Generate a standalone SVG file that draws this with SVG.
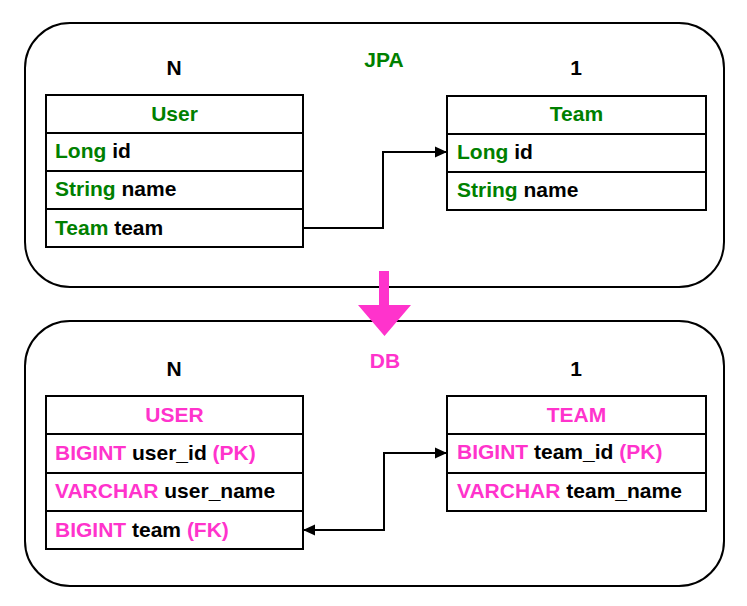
<svg xmlns="http://www.w3.org/2000/svg" width="747" height="606" viewBox="0 0 747 606">
<style>
text{font-family:"Liberation Sans",Arial,sans-serif;font-weight:bold;font-size:21px;fill:#000}
.g{fill:#008000}
.p{fill:#FF33CC}
.c{text-anchor:middle}
.box{fill:#fff;stroke:#000;stroke-width:2}
.cell{fill:#fff;stroke:#000;stroke-width:2}
.conn{fill:none;stroke:#000;stroke-width:2}
</style>
<defs>
<marker id="ah" markerWidth="12" markerHeight="12" refX="11" refY="6" orient="auto-start-reverse" markerUnits="userSpaceOnUse">
<path d="M0,0.5 L12,6 L0,11.5 Z" fill="#000"/>
</marker>
</defs>
<rect width="747" height="606" fill="#fff"/>
<g id="jpa-container">
<rect class="box" x="25" y="23" width="699" height="264" rx="45" ry="45"/>
<text class="g c" x="384" y="67">JPA</text>
<text class="c" x="174" y="75">N</text>
<text class="c" x="576" y="75">1</text>
</g>
<g id="db-container">
<rect class="box" x="25" y="321" width="699" height="265" rx="45" ry="45"/>
<text class="p c" x="385" y="368">DB</text>
<text class="c" x="174" y="376">N</text>
<text class="c" x="576" y="376">1</text>
</g>
<g id="jpa-user">
<rect class="cell" x="46" y="95" width="257" height="38"/>
<rect class="cell" x="46" y="133" width="257" height="38"/>
<rect class="cell" x="46" y="171" width="257" height="38"/>
<rect class="cell" x="46" y="209" width="257" height="38"/>
<text class="g c" x="174.5" y="121">User</text>
<text x="55" y="158"><tspan class="g">Long</tspan> id</text>
<text x="55" y="196"><tspan class="g">String</tspan> name</text>
<text x="55" y="235"><tspan class="g">Team</tspan> team</text>
</g>
<g id="jpa-team">
<rect class="cell" x="447" y="96" width="259" height="38"/>
<rect class="cell" x="447" y="134" width="259" height="38"/>
<rect class="cell" x="447" y="172" width="259" height="38"/>
<text class="g c" x="576.5" y="121">Team</text>
<text x="457" y="159"><tspan class="g">Long</tspan> id</text>
<text x="457" y="197"><tspan class="g">String</tspan> name</text>
</g>
<g id="db-user">
<rect class="cell" x="46" y="396" width="257" height="38"/>
<rect class="cell" x="46" y="434" width="257" height="39"/>
<rect class="cell" x="46" y="473" width="257" height="38"/>
<rect class="cell" x="46" y="511" width="257" height="38"/>
<text class="p c" x="174.5" y="422">USER</text>
<text x="55" y="460"><tspan class="p">BIGINT</tspan> user_id <tspan class="p">(PK)</tspan></text>
<text x="55" y="498"><tspan class="p">VARCHAR</tspan> user_name</text>
<text x="55" y="537"><tspan class="p">BIGINT</tspan> team <tspan class="p">(FK)</tspan></text>
</g>
<g id="db-team">
<rect class="cell" x="447" y="396" width="259" height="38"/>
<rect class="cell" x="447" y="434" width="259" height="39"/>
<rect class="cell" x="447" y="473" width="259" height="38"/>
<text class="p c" x="576.5" y="422">TEAM</text>
<text x="457" y="459"><tspan class="p">BIGINT</tspan> team_id <tspan class="p">(PK)</tspan></text>
<text x="457" y="498"><tspan class="p">VARCHAR</tspan> team_name</text>
</g>
<g id="connectors">
<polyline class="conn" points="303,228 383,228 383,152 446,152" marker-end="url(#ah)"/>
<polyline class="conn" points="304,530 384,530 384,453 446,453" marker-start="url(#ah)" marker-end="url(#ah)"/>
<path d="M379,271 L389,271 L389,305 L411,305 L384.5,336 L358,305 L379,305 Z" fill="#FF33CC"/>
</g>
</svg>
